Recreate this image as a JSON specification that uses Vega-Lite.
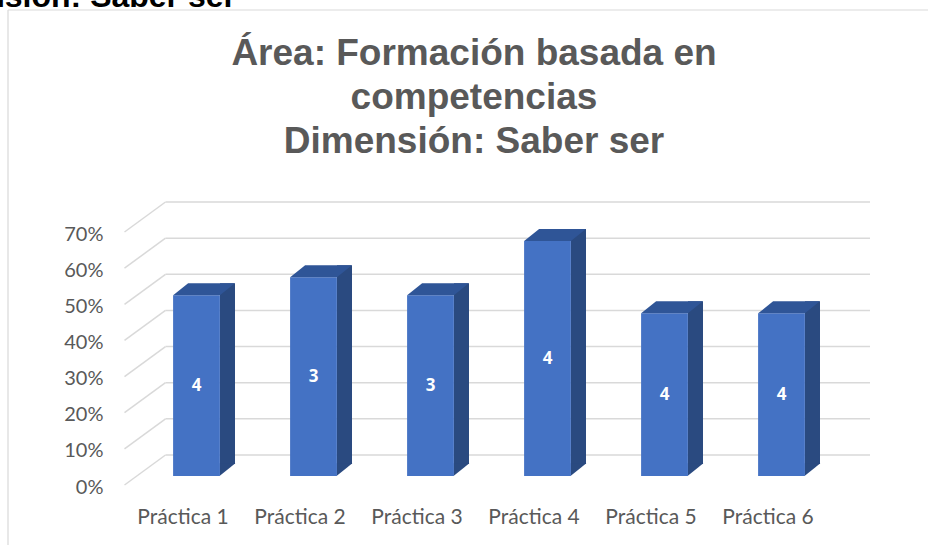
{
  "$schema": "https://vega.github.io/schema/vega-lite/v6.json",
  "width": 702,
  "height": 253,
  "autosize": {"type": "none"},
  "padding": {"left": 138, "top": 223, "right": 88, "bottom": 69},
  "background": "white",
  "config": {"view": {"stroke": null}},
  "title": {
    "text": ["Área: Formación basada en", "competencias", "Dimensión: Saber ser"],
    "anchor": "middle",
    "font": "Liberation Sans",
    "fontSize": 37,
    "fontWeight": "bold",
    "color": "#595959",
    "lineHeight": 44,
    "offset": -180,
    "dx": -15
  },
  "datasets": {
    "bars": [
      {"practica": "Práctica 1", "porcentaje": 0.5, "n": 4},
      {"practica": "Práctica 2", "porcentaje": 0.55, "n": 3},
      {"practica": "Práctica 3", "porcentaje": 0.5, "n": 3},
      {"practica": "Práctica 4", "porcentaje": 0.65, "n": 4},
      {"practica": "Práctica 5", "porcentaje": 0.45, "n": 4},
      {"practica": "Práctica 6", "porcentaje": 0.45, "n": 4}
    ],
    "grid": [
      {"v": 0}, {"v": 0.1}, {"v": 0.2}, {"v": 0.3},
      {"v": 0.4}, {"v": 0.5}, {"v": 0.6}, {"v": 0.7}
    ],
    "heading": [{"texto": "Dimensión: Saber ser"}]
  },
  "resolve": {"scale": {"x": "independent", "y": "independent"}, "axis": {"x": "independent", "y": "independent"}},
  "layer": [
    {
      "data": {"name": "heading"},
      "mark": {"type": "rule", "color": "#D9D9D9", "strokeWidth": 1.2, "xOffset": -130, "yOffset": -213, "y2Offset": 90},
      "encoding": {
        "x": {"datum": 0, "type": "quantitative", "scale": {"domain": [0, 1]}, "axis": null},
        "y": {"datum": 0.7, "type": "quantitative", "scale": {"domain": [0, 0.7]}, "axis": null},
        "y2": {"datum": 0}
      }
    },
    {
      "data": {"name": "heading"},
      "mark": {"type": "rule", "color": "#D9D9D9", "strokeWidth": 1.2, "xOffset": -130, "x2Offset": 100, "yOffset": -213},
      "encoding": {
        "x": {"datum": 0, "type": "quantitative", "scale": {"domain": [0, 1]}, "axis": null},
        "x2": {"datum": 1},
        "y": {"datum": 0.7, "type": "quantitative", "scale": {"domain": [0, 0.7]}, "axis": null}
      }
    },
    {
      "data": {"name": "heading"},
      "mark": {"type": "text", "font": "Liberation Sans", "fontSize": 32, "fontWeight": "bold", "color": "black", "align": "left", "baseline": "alphabetic", "xOffset": -231, "yOffset": -216},
      "encoding": {
        "x": {"datum": 0, "type": "quantitative", "scale": {"domain": [0, 1]}, "axis": null},
        "y": {"datum": 0.7, "type": "quantitative", "scale": {"domain": [0, 0.7]}, "axis": null},
        "text": {"field": "texto", "type": "nominal"}
      }
    },
    {
      "data": {"name": "grid"},
      "mark": {"type": "rule", "color": "#D9D9D9", "strokeWidth": 1.5, "xOffset": 27.5, "x2Offset": 30, "yOffset": -21},
      "encoding": {
        "x": {"datum": 0, "type": "quantitative", "scale": {"domain": [0, 1]}, "axis": null},
        "x2": {"datum": 1},
        "y": {"field": "v", "type": "quantitative", "scale": {"domain": [0, 0.7]}, "axis": null}
      }
    },
    {
      "data": {"name": "grid"},
      "mark": {"type": "rule", "color": "#D9D9D9", "strokeWidth": 1.5, "xOffset": -13.5, "x2Offset": 27.5, "yOffset": 9, "y2Offset": -21},
      "encoding": {
        "x": {"datum": 0, "type": "quantitative", "scale": {"domain": [0, 1]}, "axis": null},
        "x2": {"datum": 0},
        "y": {"field": "v", "type": "quantitative", "scale": {"domain": [0, 0.7]}, "axis": null},
        "y2": {"field": "v"}
      }
    },
    {
      "data": {"name": "bars"},
      "mark": {"type": "bar", "width": 15, "xOffset": 31, "yOffset": -12, "y2Offset": -12, "color": "#2A4A80"},
      "encoding": {
        "x": {"field": "practica", "type": "nominal", "sort": null, "scale": {"paddingInner": 0.6, "paddingOuter": 0.3}, "axis": null},
        "y": {"field": "porcentaje", "type": "quantitative", "scale": {"domain": [0, 0.7]}, "axis": null}
      }
    },
    {
      "data": {"name": "bars"},
      "mark": {"type": "point", "shape": "M 23 0 L 38.9 -12.7 L 23 -12.7 Z", "size": 4, "filled": true, "color": "#2A4A80", "opacity": 1, "strokeWidth": 0},
      "encoding": {
        "x": {"field": "practica", "type": "nominal", "sort": null, "scale": {"paddingInner": 0.6, "paddingOuter": 0.3}, "axis": null},
        "y": {"datum": 0, "type": "quantitative", "scale": {"domain": [0, 0.7]}, "axis": null}
      }
    },
    {
      "data": {"name": "bars"},
      "mark": {"type": "bar", "color": "#4472C4"},
      "encoding": {
        "x": {
          "field": "practica", "type": "nominal", "sort": null,
          "scale": {"paddingInner": 0.6, "paddingOuter": 0.3},
          "axis": {
            "title": null, "domain": false, "ticks": false, "labelAngle": 0,
            "labelPadding": 30, "labelOffset": -13.5,
            "labelFont": "Lato", "labelFontSize": 21, "labelColor": "#595959"
          }
        },
        "y": {
          "field": "porcentaje", "type": "quantitative",
          "scale": {"domain": [0, 0.7]},
          "axis": {
            "title": null, "domain": false, "ticks": false, "grid": false,
            "values": [0, 0.1, 0.2, 0.3, 0.4, 0.5, 0.6, 0.7],
            "format": ".0%", "labelPadding": 35, "labelOffset": 11,
            "labelFont": "Lato", "labelFontSize": 20, "labelColor": "#595959"
          }
        }
      }
    },
    {
      "data": {"name": "bars"},
      "mark": {"type": "point", "shape": "M -23.4 0 L 23.4 0 L 38.4 -12 L -8.4 -12 Z", "size": 4, "filled": true, "color": "#2F5597", "opacity": 1, "strokeWidth": 0},
      "encoding": {
        "x": {"field": "practica", "type": "nominal", "sort": null, "scale": {"paddingInner": 0.6, "paddingOuter": 0.3}, "axis": null},
        "y": {"field": "porcentaje", "type": "quantitative", "scale": {"domain": [0, 0.7]}, "axis": null}
      }
    },
    {
      "data": {"name": "bars"},
      "mark": {"type": "text", "color": "white", "font": "Open Sans", "fontSize": 17, "fontWeight": "bold", "baseline": "middle"},
      "encoding": {
        "x": {"field": "practica", "type": "nominal", "sort": null, "scale": {"paddingInner": 0.6, "paddingOuter": 0.3}, "axis": null},
        "y": {"field": "porcentaje", "type": "quantitative", "scale": {"domain": [0, 1.4]}, "axis": null},
        "text": {"field": "n", "type": "quantitative"}
      }
    }
  ]
}
